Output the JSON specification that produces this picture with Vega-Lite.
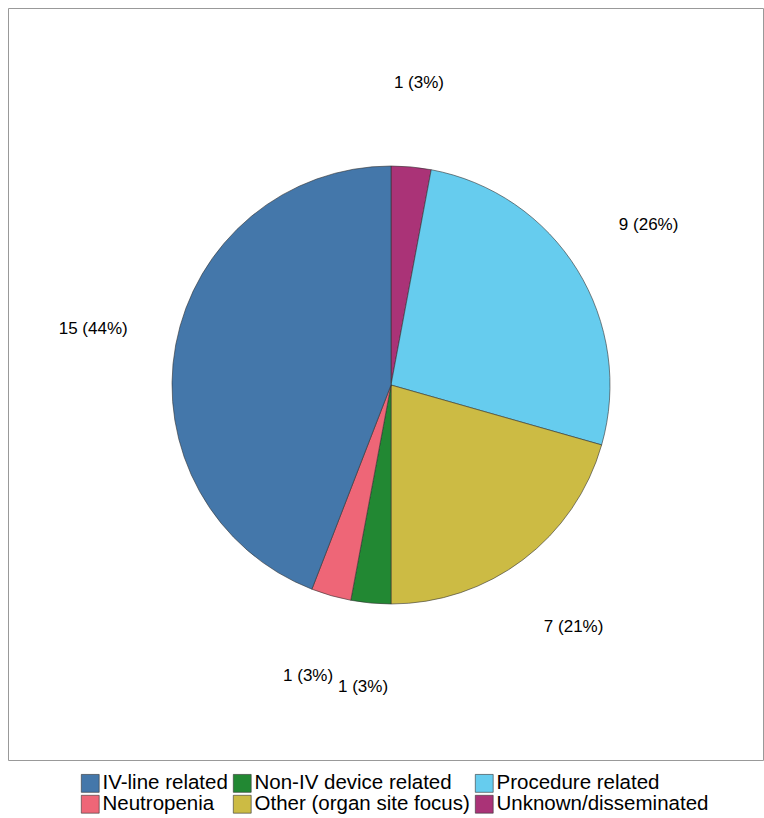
{
"$schema":"https://vega.github.io/schema/vega-lite/v6.json",
"width":755,"height":752,"padding":{"left":8,"top":8,"right":1,"bottom":58},
"autosize":{"type":"none"},
"background":"white",
"view":{"stroke":"#999999","strokeWidth":1},
"data":{"values":[
{"cat":"Unknown/disseminated","n":1,"ord":1,"label":"1 (3%)"},
{"cat":"Procedure related","n":9,"ord":2,"label":"9 (26%)"},
{"cat":"Other (organ site focus)","n":7,"ord":3,"label":"7 (21%)"},
{"cat":"Non-IV device related","n":1,"ord":4,"label":"1 (3%)"},
{"cat":"Neutropenia","n":1,"ord":5,"label":"1 (3%)"},
{"cat":"IV-line related","n":15,"ord":6,"label":"15 (44%)"}
]},
"encoding":{
"theta":{"field":"n","type":"quantitative","stack":true},
"order":{"field":"ord","type":"quantitative"},
"x":{"value":383},"y":{"value":377}
},
"layer":[
{"mark":{"type":"arc","outerRadius":219,"stroke":"#333333","strokeWidth":0.6},
"encoding":{"color":{"field":"cat","type":"nominal",
"scale":{"domain":["IV-line related","Non-IV device related","Procedure related","Neutropenia","Other (organ site focus)","Unknown/disseminated"],
"range":["#4477AA","#228833","#66CCEE","#EE6677","#CCBB44","#AA3377"]},
"legend":{"orient":"none","direction":"horizontal","gridAlign":"each","legendX":72,"legendY":765,"columns":3,"title":null,"symbolType":"square","symbolSize":320,"symbolStrokeColor":"#333","symbolStrokeWidth":0.6,"labelFont":"Liberation Sans","labelFontSize":20.5,"labelColor":"#000","columnPadding":4,"rowPadding":0,"labelLimit":300,"symbolOffset":0,"labelOffset":2}}}},
{"mark":{"type":"text","radius":303,"font":"Liberation Sans","fontSize":17,"color":"#000"},
"encoding":{"text":{"field":"label"}}}
]
}
